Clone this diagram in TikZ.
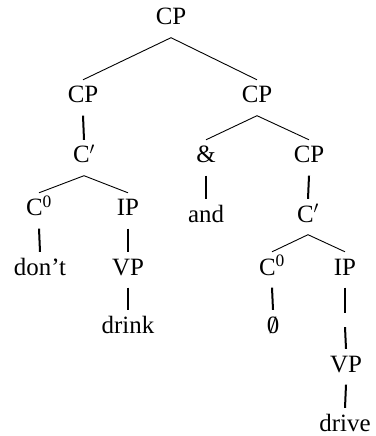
\documentclass[tikz,border=0pt]{standalone}
\usepackage{fontspec}
\setmainfont{Liberation Serif}
\begin{document}
\begin{tikzpicture}[x=1bp,y=-1bp,
  font=\fontsize{25}{30}\selectfont,
  lab/.style={inner sep=0pt, anchor=base, text height=23bp, text depth=12.5bp},
  leaf/.style={lab, text depth=0pt},
  gap/.style={inner sep=0pt, minimum height=14bp, minimum width=0pt},
  dline/.style={line width=0.9bp},
  vline/.style={line width=2bp}]
\useasboundingbox (0,0) rectangle (375,436);
% nodes
\node[lab] (cp0) at (171,25) {CP};
\node[lab] (cpL) at (83,103) {CP};
\node[lab] (cpR) at (257,103) {CP};
\node[lab] (cbarL) at (84,163) {C$'$};
\node[lab] (amp) at (206,163) {\&};
\node[lab] (cpR2) at (309,163) {CP};
\node[lab] (c0L) at (39,216) {C\textsuperscript{0}};
\node[lab] (ipL) at (128,216) {IP};
\node[leaf] (and) at (206,222) {and};
\node[lab] (cbarR) at (308,222) {C$'$};
\node[leaf] (dont) at (40,275) {don’t};
\node[lab] (vpL) at (128,275) {VP};
\node[lab] (c0R) at (272,275) {C\textsuperscript{0}};
\node[lab] (ipR) at (345,275) {IP};
\node[leaf] (drink) at (128,333) {drink};
\node[leaf] (empty) at (273,333) {\ooalign{0\cr\hidewidth/\hidewidth\cr}};
\node[gap] (e) at (345,320) {};
\node[lab] (vpR) at (346,372) {VP};
\node[leaf] (drive) at (345,431) {drive};
% branches
\draw[dline] (cpL.north) -- (cp0.south) -- (cpR.north);
\draw[dline] (amp.north) -- (cpR.south) -- (cpR2.north);
\draw[dline] (c0L.north) -- (cbarL.south) -- (ipL.north);
\draw[dline] (c0R.north) -- (cbarR.south) -- (ipR.north);
\draw[vline] (cpL.south) -- (cbarL.north);
\draw[vline] (amp.south) -- (and.north);
\draw[vline] (cpR2.south) -- (cbarR.north);
\draw[vline] (c0L.south) -- (dont.north);
\draw[vline] (ipL.south) -- (vpL.north);
\draw[vline] (vpL.south) -- (drink.north);
\draw[vline] (c0R.south) -- (empty.north);
\draw[vline] (ipR.south) -- (e.north);
\draw[vline] (e.south) -- (vpR.north);
\draw[vline] (vpR.south) -- (drive.north);
\end{tikzpicture}
\end{document}
